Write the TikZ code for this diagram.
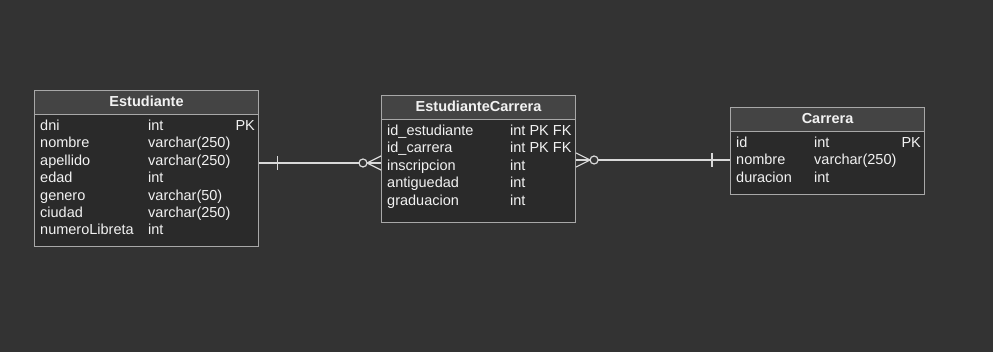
\documentclass[tikz,border=0pt]{standalone}
\usepackage{fontspec}
\setmainfont{Liberation Sans}
\usetikzlibrary{calc,positioning}

\definecolor{bgc}{HTML}{333333}
\definecolor{bodyc}{HTML}{2A2A2A}
\definecolor{headc}{HTML}{444444}
\definecolor{linec}{HTML}{A8A8A8}
\definecolor{relc}{HTML}{D9D9D9}
\definecolor{textc}{HTML}{F2F2F2}

\begin{document}
\begin{tikzpicture}[x=1pt,y=-1pt,
  font=\fontsize{14.5}{17}\selectfont,text=textc,
  table/.style 2 args={draw=linec,line width=1.1pt,fill=bodyc,inner sep=0pt,
    anchor=north west,minimum width=#1,minimum height=#2},
  head/.style={draw=linec,line width=1.1pt,fill=headc,inner sep=0pt,
    anchor=north west,minimum width=#1,minimum height=24,
    text height=10,text depth=3,font=\fontsize{14.5}{17}\selectfont\bfseries},
  fld/.style={anchor=base west,inner sep=0pt},
  key/.style={anchor=base east,inner sep=0pt},
  rel/.style={draw=relc,line width=1.2pt}]

  \fill[bgc] (0,0) rectangle (993,352);

  % Estudiante
  \node[table={224}{156}] (est) at (34,90) {};
  \node[head=224] (est-h) at (est.north west) {Estudiante};
  \foreach \f/\t [count=\i] in {dni/int,nombre/varchar(250),apellido/varchar(250),
      edad/int,genero/varchar(50),ciudad/varchar(250),numeroLibreta/int} {
    \node[fld] (est-f\i) at ($(est.north west)+(6,40.5+17.4*\i-17.4)$) {\f};
    \node[fld] (est-t\i) at ($(est.north west)+(114,40.5+17.4*\i-17.4)$) {\t};
  }
  \node[key] (est-pk) at ($(est.north east)+(-4,40.5)$) {PK};

  % EstudianteCarrera
  \node[table={194}{127}] (ec) at (381,95) {};
  \node[head=194] (ec-h) at (ec.north west) {EstudianteCarrera};
  \foreach \f/\t [count=\i] in {id\_estudiante/int PK FK,id\_carrera/int PK FK,
      inscripcion/int,antiguedad/int,graduacion/int} {
    \node[fld] (ec-f\i) at ($(ec.north west)+(6,40.5+17.4*\i-17.4)$) {\f};
    \node[fld] (ec-t\i) at ($(ec.north west)+(129,40.5+17.4*\i-17.4)$) {\t};
  }

  % Carrera
  \node[table={194}{87}] (car) at (730,107) {};
  \node[head=194] (car-h) at (car.north west) {Carrera};
  \foreach \f/\t [count=\i] in {id/int,nombre/varchar(250),duracion/int} {
    \node[fld] (car-f\i) at ($(car.north west)+(6,40.5+17.4*\i-17.4)$) {\f};
    \node[fld] (car-t\i) at ($(car.north west)+(84,40.5+17.4*\i-17.4)$) {\t};
  }
  \node[key] (car-pk) at ($(car.north east)+(-4,40.5)$) {PK};

  % relationships: one -- zero or many
  \coordinate (l1) at ([yshift=-73]est.north east);
  \coordinate (l2) at (l1 -| ec.west);
  \draw[rel] (l1) -- (l2);
  \draw[rel] ([xshift=18]l1) ++(0,-7) -- ++(0,14);
  \draw[rel] ([xshift=-14]l2) -- ++(14,-7) ([xshift=-14]l2) -- ++(14,7);
  \draw[rel,fill=bgc] ([xshift=-18]l2) circle (4);

  \coordinate (r1) at ([yshift=-65]ec.north east);
  \coordinate (r2) at (r1 -| car.west);
  \draw[rel] (r1) -- (r2);
  \draw[rel] ([xshift=-18]r2) ++(0,-7) -- ++(0,14);
  \draw[rel] ([xshift=14]r1) -- ++(-14,-7) ([xshift=14]r1) -- ++(-14,7);
  \draw[rel,fill=bgc] ([xshift=18]r1) circle (4);
\end{tikzpicture}
\end{document}
